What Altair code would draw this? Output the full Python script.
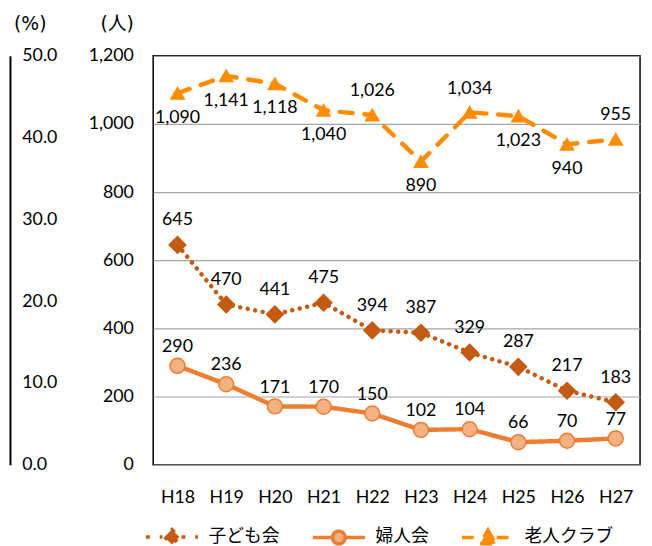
import altair as alt
import pandas as pd

years = ["H18", "H19", "H20", "H21", "H22", "H23", "H24", "H25", "H26", "H27"]
series_names = ["子ども会", "婦人会", "老人クラブ"]
kodomo = [645, 470, 441, 475, 394, 387, 329, 287, 217, 183]
fujin = [290, 236, 171, 170, 150, 102, 104, 66, 70, 77]
rojin = [1090, 1141, 1118, 1040, 1026, 890, 1034, 1023, 940, 955]
rojin_side = ["below", "below", "below", "below", "above", "below", "above", "below", "below", "above"]
count_ticks = [0, 200, 400, 600, 800, 1000, 1200]
pct_ticks = [0, 10, 20, 30, 40, 50]

rows = []
for name, vals, sides in [
    (series_names[0], kodomo, ["above"] * len(years)),
    (series_names[1], fujin, ["above"] * len(years)),
    (series_names[2], rojin, rojin_side),
]:
    for yr, v, s in zip(years, vals, sides):
        rows.append({"year": yr, "series": name, "value": v, "side": s})
df = pd.DataFrame(rows)
pct_df = pd.DataFrame({"pct": pct_ticks})

line_colors = ["#C55A11", "#ED7D31", "#FF8C00"]
fill_colors = ["#C55A11", "#F4B183", "#FF8C00"]
dashes = [[0.1, 7.6], [1, 0], [13, 12]]
legend_dashes = [[4, 10], [1, 0], [12, 8]]
shapes = ["diamond", "circle", "triangle-up"]
sizes = [280, 180, 256]
legend_paths = [
    "M-3.3,0L-1.2,0M1.2,0L3.3,0M0,-0.95L0.95,0L0,0.95L-0.95,0Z",
    "M-3.3,0L-0.8,0M0.8,0L3.3,0M0.8,0A0.8,0.8,0,1,1,-0.8,0A0.8,0.8,0,1,1,0.8,0Z",
    "M-3.3,0L-1.1,0M1.1,0L3.3,0M0,-0.95L1.0,0.8L-1.0,0.8Z",
]

FONT = "Lato"
CJK = "Noto Sans CJK JP"
TITLE_FONT = "DejaVu Sans, Noto Sans CJK JP"


def sc(rng):
    return alt.Scale(domain=series_names, range=rng)


x = alt.X(
    "year:N",
    sort=years,
    scale=alt.Scale(type="point", padding=0.5),
    axis=alt.Axis(title=None, labelAngle=0, ticks=False, domain=False, labelPadding=24,
                  labelFont=FONT, labelFontSize=18, labelColor="black"),
)
y = alt.Y(
    "value:Q",
    scale=alt.Scale(domain=[0, 1200], nice=False),
    axis=alt.Axis(values=count_ticks, format=",.0f", title="(人)", titleAngle=0, titleX=-37, titleY=-33,
                  titleAlign="center", titleBaseline="middle", titleFont=TITLE_FONT, titleFontSize=19,
                  titleFontWeight="normal", titleColor="black",
                  labelFont=FONT, labelFontSize=18, labelColor="black", labelPadding=20,
                  ticks=False, domain=False, grid=True, gridColor="#A6A6A6", gridWidth=1.2),
)

lines = alt.Chart(df).mark_line(strokeWidth=4.5, strokeCap="round", strokeJoin="round").encode(
    x=x, y=y,
    color=alt.Color("series:N", scale=sc(line_colors), legend=None),
    strokeDash=alt.StrokeDash("series:N", scale=sc(dashes), legend=None),
)

points = alt.Chart(df).mark_point(filled=True, opacity=1, strokeWidth=1.5).encode(
    x=x, y=y,
    stroke=alt.Stroke("series:N", scale=sc(line_colors), legend=None),
    fill=alt.Fill("series:N", scale=sc(fill_colors), legend=None),
    shape=alt.Shape("series:N", scale=sc(shapes), legend=None),
    size=alt.Size("series:N", scale=sc(sizes), legend=None),
)


def labels(cond, dy):
    return alt.Chart(df).transform_filter(cond).mark_text(
        dy=dy, font=FONT, fontSize=18, color="black"
    ).encode(x=x, y=y, text=alt.Text("value:Q", format=",.0f"))


t1 = labels(alt.datum.series == series_names[0], -25)
t2 = labels(alt.datum.series == series_names[1], -19)
t3 = labels((alt.datum.series == series_names[2]) & (alt.datum.side == "above"), -24)
t4 = labels((alt.datum.series == series_names[2]) & (alt.datum.side == "below"), 25)

leg = alt.Legend(title=None, orient="none", legendX=9, legendY=477, direction="horizontal",
                 columns=3, gridAlign="each", columnPadding=26, labelOffset=27,
                 labelFont=CJK, labelFontSize=18, labelColor="black",
                 symbolSize=256, symbolStrokeWidth=3.5, symbolOpacity=1, padding=0)

legend_layer = alt.Chart(df).mark_point(filled=True, opacity=0).encode(
    x=x, y=y,
    stroke=alt.Stroke("series:N", scale=sc(line_colors), legend=leg),
    fill=alt.Fill("series:N", scale=sc(fill_colors), legend=leg),
    strokeDash=alt.StrokeDash("series:N", scale=sc(legend_dashes), legend=leg),
    shape=alt.Shape("series:N", scale=sc(legend_paths), legend=leg),
)

main = alt.layer(lines, points, t1, t2, t3, t4, legend_layer).resolve_scale(
    color="independent", stroke="independent", fill="independent",
    shape="independent", strokeDash="independent", size="independent",
)

pct = alt.Chart(pct_df).mark_point(opacity=0).encode(
    y=alt.Y("pct:Q", scale=alt.Scale(domain=[0, 50], nice=False),
            axis=alt.Axis(orient="right", offset=-638, values=pct_ticks, format=".1f",
                          title="(%)", titleAngle=0, titleX=20, titleY=-33, titleAlign="center",
                          titleBaseline="middle", titleFont=TITLE_FONT, titleFontSize=19,
                          titleFontWeight="normal", titleColor="black",
                          labelFont=FONT, labelFontSize=18, labelColor="black",
                          labelAlign="left", labelPadding=12, ticks=False, domain=True,
                          domainColor="black", domainWidth=2, grid=False)),
)

chart = alt.layer(main, pct).resolve_scale(y="independent").properties(
    width=493, height=414,
    autosize=alt.AutoSizeParams(type="none"),
    padding={"left": 147, "top": 45, "right": 4, "bottom": 79},
).configure_view(stroke="black", strokeWidth=1.5)

chart.save("out.html", embed_options={"renderer": "svg", "actions": False})
